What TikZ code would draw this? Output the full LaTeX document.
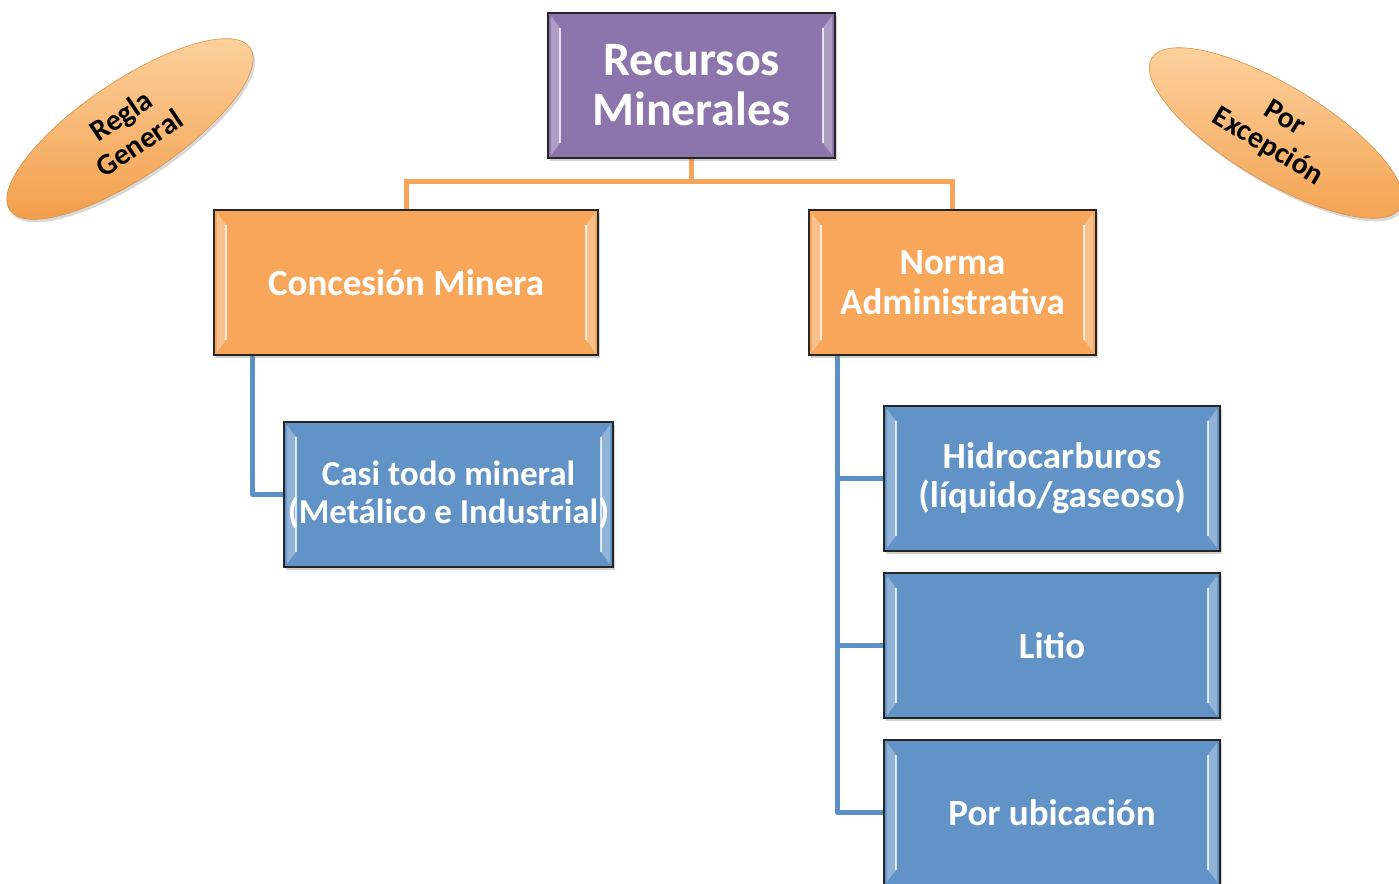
\documentclass[tikz,border=0pt]{standalone}
\usepackage{fontspec}
\setmainfont{Carlito}
\usetikzlibrary{shapes.geometric,shadows,calc}
\definecolor{purplebox}{HTML}{8C74AC}
\definecolor{orangebox}{HTML}{F8A65A}
\definecolor{bluebox}{HTML}{6193C7}
\definecolor{orangeline}{HTML}{F5A45A}
\definecolor{blueline}{HTML}{5B90C6}
\definecolor{ovaltop}{HTML}{FDD4A2}
\definecolor{ovalbot}{HTML}{F3A04E}
\definecolor{edge}{HTML}{262626}
\pgfdeclarelayer{bg}
\pgfsetlayers{bg,main}
\tikzset{
  bevel/.style={path picture={
    \fill[white,opacity=0.30]
      ([xshift=3pt,yshift=-3pt]path picture bounding box.north west) -- ++(9pt,-12pt)
      -- ([xshift=12pt,yshift=15pt]path picture bounding box.south west) -- ++(-9pt,-12pt) -- cycle;
    \fill[white,opacity=0.30]
      ([xshift=-3pt,yshift=-3pt]path picture bounding box.north east) -- ++(-9pt,-12pt)
      -- ([xshift=-12pt,yshift=15pt]path picture bounding box.south east) -- ++(9pt,-12pt) -- cycle;
    \draw[white,opacity=0.75,line width=1.5pt]
      ([xshift=12pt,yshift=-15pt]path picture bounding box.north west) -- ([xshift=12pt,yshift=15pt]path picture bounding box.south west);
    \draw[white,opacity=0.75,line width=1.5pt]
      ([xshift=-12pt,yshift=-15pt]path picture bounding box.north east) -- ([xshift=-12pt,yshift=15pt]path picture bounding box.south east);
  }},
  box/.style={rectangle, draw=edge, line width=1.4pt, bevel, text=white, align=center,
    font=\bfseries, inner sep=0pt, drop shadow={opacity=0.35, shadow xshift=2pt, shadow yshift=-3pt}},
  topbox/.style={box, fill=purplebox, minimum width=287pt, minimum height=145pt,
    font=\bfseries\fontsize{48}{50}\selectfont},
  midbox/.style={box, fill=orangebox, minimum width=384pt, minimum height=145pt,
    font=\bfseries\fontsize{37}{40}\selectfont},
  leafbox/.style={box, fill=bluebox, minimum width=336pt, minimum height=145pt,
    font=\bfseries\fontsize{37}{39}\selectfont},
  oval/.style={ellipse, top color=ovaltop, bottom color=ovalbot, draw=ovalbot!90!black, line width=0.6pt,
    minimum width=290pt, minimum height=96pt, align=center, text=black,
    font=\bfseries\fontsize{30}{33}\selectfont, inner sep=0pt,
    drop shadow={opacity=0.3, shadow xshift=2pt, shadow yshift=-3pt}},
  oline/.style={draw=orangeline, line width=5pt},
  bline/.style={draw=blueline, line width=5pt},
}
\begin{document}
\begin{tikzpicture}[x=1pt,y=-1pt]
\useasboundingbox (0,0) rectangle (1399,883);
\clip (0,0) rectangle (1399,883);

\node[topbox] (top) at (691.5,85.5) {Recursos\\Minerales};
\node[midbox] (conc) at (406,282.5) {Concesión Minera};
\node[midbox, minimum width=287pt] (norma) at (952.5,282.5) {Norma\\Administrativa};
\node[leafbox, minimum width=329pt, font=\bfseries\fontsize{35}{38}\selectfont] (casi) at (448.5,494.5) {Casi todo mineral\\(Metálico e Industrial)};
\node[leafbox] (hidro) at (1052,478.5) {Hidrocarburos\\(líquido/gaseoso)};
\node[leafbox] (litio) at (1052,645.5) {Litio};
\node[leafbox] (ubic) at (1052,812.5) {Por ubicación};

\begin{pgfonlayer}{bg}
\fill[white] (0,0) rectangle (1399,883);
\draw[oline] (top.south) -- ++(0,-23pt) coordinate (ob) -| (conc.north);
\draw[oline] (ob) -| (norma.north);
\draw[bline, line join=round] ([xshift=39pt]conc.south west) |- (casi.west);
\draw[bline, line join=round] ([xshift=29pt]norma.south west) coordinate (rv) |- (ubic.west);
\draw[bline] (rv |- hidro.west) -- (hidro.west);
\draw[bline] (rv |- litio.west) -- (litio.west);
\end{pgfonlayer}

\node[oval, rotate=34] (regla) at (130,129) {Regla\\General};
\node[oval, rotate=-31] (excep) at (1276,133) {Por\\Excepción};
\end{tikzpicture}
\end{document}
